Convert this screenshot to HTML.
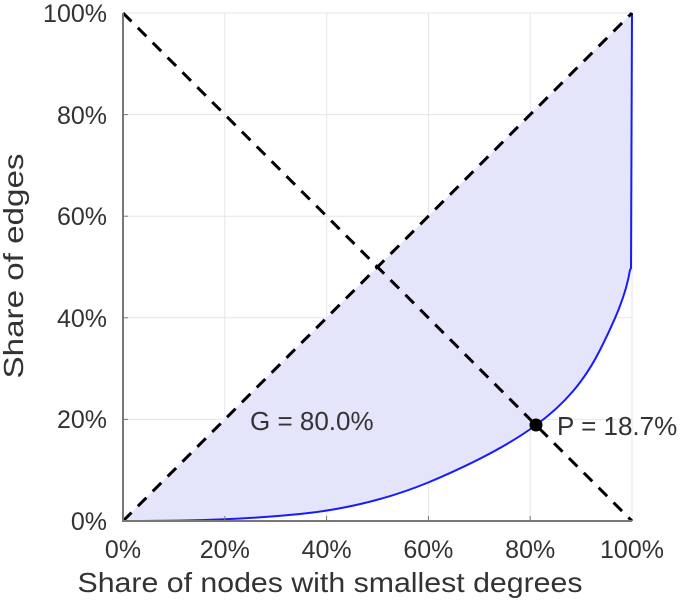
<!DOCTYPE html>
<html><head><style>body{margin:0;background:#fff}svg{display:block}text{font-family:"Liberation Sans",sans-serif;fill:#333}</style></head><body>
<svg width="698" height="600" viewBox="0 0 698 600">
<g stroke="#e6e6e6" stroke-width="1">
<line x1="224.8" y1="13" x2="224.8" y2="521"/><line x1="326.6" y1="13" x2="326.6" y2="521"/><line x1="428.4" y1="13" x2="428.4" y2="521"/><line x1="530.2" y1="13" x2="530.2" y2="521"/><line x1="632" y1="13" x2="632" y2="521"/>
<line x1="123" y1="419.4" x2="632" y2="419.4"/><line x1="123" y1="317.8" x2="632" y2="317.8"/><line x1="123" y1="216.2" x2="632" y2="216.2"/><line x1="123" y1="114.6" x2="632" y2="114.6"/><line x1="123" y1="13" x2="632" y2="13"/>
</g>
<path d="M123,521 C200,521 250,519 300,514 C350,509 390,498 427,483 C465,467 505,448 536,425 C565,404 585,380 600,350 C615,320 626,295 630,270 L631,268 L632,13 Z" fill="#e4e4fb"/>
<path d="M123,521 C200,521 250,519 300,514 C350,509 390,498 427,483 C465,467 505,448 536,425 C565,404 585,380 600,350 C615,320 626,295 630,270 L631,268 L632,13" fill="none" stroke="#1a1aff" stroke-width="2"/>
<g stroke="#000" stroke-width="3" stroke-dasharray="12,9" fill="none">
<line x1="123" y1="521" x2="632" y2="13"/><line x1="123" y1="13" x2="632" y2="521"/>
</g>
<g stroke="#777" stroke-width="2"><line x1="123" y1="13" x2="123" y2="522"/><line x1="122" y1="521" x2="632" y2="521"/></g>
<g stroke="#777" stroke-width="1">
<line x1="224.8" y1="521" x2="224.8" y2="516"/><line x1="326.6" y1="521" x2="326.6" y2="516"/><line x1="428.4" y1="521" x2="428.4" y2="516"/><line x1="530.2" y1="521" x2="530.2" y2="516"/>
<line x1="123" y1="419.4" x2="128" y2="419.4"/><line x1="123" y1="317.8" x2="128" y2="317.8"/><line x1="123" y1="216.2" x2="128" y2="216.2"/><line x1="123" y1="114.6" x2="128" y2="114.6"/>
</g>
<circle cx="536" cy="425" r="6.5" fill="#000"/>
<g font-size="25" text-anchor="end">
<text x="107" y="530">0%</text><text x="107" y="428">20%</text><text x="107" y="327">40%</text><text x="107" y="225">60%</text><text x="107" y="124">80%</text><text x="107" y="22">100%</text>
</g>
<g font-size="25" text-anchor="middle">
<text x="123" y="558">0%</text><text x="224.8" y="558">20%</text><text x="326.6" y="558">40%</text><text x="428.4" y="558">60%</text><text x="530.2" y="558">80%</text><text x="632" y="558">100%</text>
</g>
<text x="250" y="430" font-size="26">G = 80.0%</text>
<text x="557" y="435" font-size="26">P = 18.7%</text>
<text x="330" y="592" font-size="28" text-anchor="middle" textLength="505" lengthAdjust="spacingAndGlyphs">Share of nodes with smallest degrees</text>
<text transform="translate(23,266) rotate(-90)" font-size="28" text-anchor="middle" textLength="225" lengthAdjust="spacingAndGlyphs">Share of edges</text>
</svg>
</body></html>
